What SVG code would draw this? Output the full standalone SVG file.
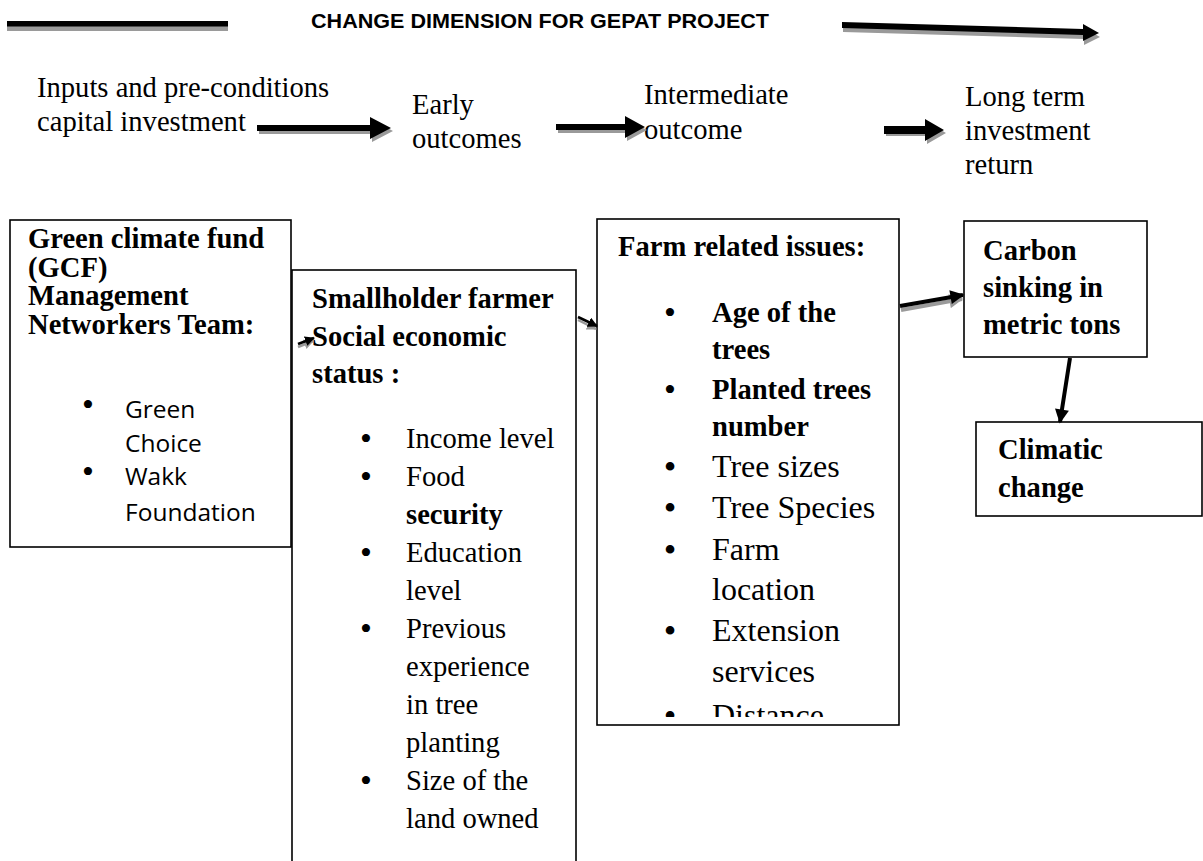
<svg xmlns="http://www.w3.org/2000/svg" width="1203" height="861" viewBox="0 0 1203 861">
<defs>
<style>
.t{font-family:"Liberation Serif","Times New Roman",serif;font-size:28.6px;fill:#000}
.b{font-weight:bold}
.big{font-size:32px}
.bu{font-family:"Liberation Serif","Times New Roman",serif;font-size:34px;fill:#000}
.bu2{font-family:"Liberation Serif","Times New Roman",serif;font-size:36px;fill:#000}
.sans{font-family:"Open Sans","Liberation Sans",sans-serif;font-size:24.5px;fill:#000}
.box{fill:#fff;stroke:#000;stroke-width:1.6}
.sh{fill:#9a9a9a}
.blk{fill:#000}
.ln{stroke:#000;stroke-width:4;fill:none}
.lnsh{stroke:#9a9a9a;stroke-width:4;fill:none}
.lns{stroke:#000;stroke-width:2.5;fill:none}
.lnssh{stroke:#9a9a9a;stroke-width:2.5;fill:none}
</style>
<marker id="ah" viewBox="0 0 10 10" refX="9" refY="5" markerWidth="15" markerHeight="14" markerUnits="userSpaceOnUse" orient="auto"><path d="M0,0 L10,5 L0,10 z" fill="#000"/></marker>
<marker id="ahs" viewBox="0 0 10 10" refX="9" refY="5" markerWidth="15" markerHeight="14" markerUnits="userSpaceOnUse" orient="auto"><path d="M0,0 L10,5 L0,10 z" fill="#9a9a9a"/></marker>
<marker id="ah2" viewBox="0 0 10 10" refX="9" refY="5" markerWidth="10" markerHeight="10" markerUnits="userSpaceOnUse" orient="auto"><path d="M0,0 L10,5 L0,10 z" fill="#000"/></marker>
<marker id="ah2s" viewBox="0 0 10 10" refX="9" refY="5" markerWidth="10" markerHeight="10" markerUnits="userSpaceOnUse" orient="auto"><path d="M0,0 L10,5 L0,10 z" fill="#9a9a9a"/></marker>
<clipPath id="clip3"><rect x="597" y="219" width="303" height="498"/></clipPath>
</defs>
<rect width="1203" height="861" fill="#fff"/>

<g id="title">
<rect x="7" y="26" width="221" height="5" class="sh"/>
<rect x="7" y="21" width="221" height="5.5" class="blk"/>
<text x="311" y="28" font-family="Liberation Sans, Arial, sans-serif" font-weight="bold" font-size="20" textLength="458" lengthAdjust="spacingAndGlyphs">CHANGE DIMENSION FOR GEPAT PROJECT</text>
</g>

<g id="stage-labels">
<text class="t" x="37" y="97">Inputs and pre-conditions</text>
<text class="t" x="37" y="131">capital investment</text>
<text class="t" x="412" y="114">Early</text>
<text class="t" x="412" y="148">outcomes</text>
<text class="t" x="644" y="104">Intermediate</text>
<text class="t" x="644" y="139">outcome</text>
<text class="t" x="965" y="106">Long term</text>
<text class="t" x="965" y="140">investment</text>
<text class="t" x="965" y="174">return</text>
</g>

<g id="node-gcf">
<rect class="box" x="10" y="220" width="281" height="327"/>
<text class="t b" x="28" y="248">Green climate fund</text>
<text class="t b" x="28" y="277">(GCF)</text>
<text class="t b" x="28" y="305">Management</text>
<text class="t b" x="28" y="334">Networkers Team:</text>
<text class="bu" x="88" y="416" text-anchor="middle">•</text>
<text class="sans" x="125" y="418">Green</text>
<text class="sans" x="125" y="452">Choice</text>
<text class="bu" x="88" y="483" text-anchor="middle">•</text>
<text class="sans" x="125" y="485">Wakk</text>
<text class="sans" x="125" y="521">Foundation</text>
</g>

<g id="node-smallholder">
<rect class="box" x="292" y="270" width="284" height="610"/>
<text class="t b" x="312" y="308">Smallholder farmer</text>
<text class="t b" x="312" y="346">Social economic</text>
<text class="t b" x="312" y="383">status :</text>
<g class="t">
<text class="bu" x="366" y="450" text-anchor="middle">•</text><text x="406" y="448">Income level</text>
<text class="bu" x="366" y="488" text-anchor="middle">•</text><text x="406" y="486">Food</text>
<text x="406" y="524" font-weight="bold">security</text>
<text class="bu" x="366" y="564" text-anchor="middle">•</text><text x="406" y="562">Education</text>
<text x="406" y="600">level</text>
<text class="bu" x="366" y="640" text-anchor="middle">•</text><text x="406" y="638">Previous</text>
<text x="406" y="676">experience</text>
<text x="406" y="714">in tree</text>
<text x="406" y="752">planting</text>
<text class="bu" x="366" y="792" text-anchor="middle">•</text><text x="406" y="790">Size of the</text>
<text x="406" y="828">land owned</text>
</g>
</g>

<g id="node-farm">
<rect class="box" x="597" y="219" width="302" height="506"/>
<text class="t b" x="618" y="256">Farm related issues:</text>
<g clip-path="url(#clip3)">
<text class="bu" x="670" y="324" text-anchor="middle">•</text><text class="t b" x="712" y="322">Age of the</text>
<text class="t b" x="712" y="359">trees</text>
<text class="bu" x="670" y="401" text-anchor="middle">•</text><text class="t b" x="712" y="399">Planted trees</text>
<text class="t b" x="712" y="436">number</text>
<text class="bu2" x="670" y="479" text-anchor="middle">•</text><text class="t big" x="712" y="477">Tree sizes</text>
<text class="bu2" x="670" y="520" text-anchor="middle">•</text><text class="t big" x="712" y="518">Tree Species</text>
<text class="bu2" x="670" y="562" text-anchor="middle">•</text><text class="t big" x="712" y="560">Farm</text>
<text class="t big" x="712" y="600">location</text>
<text class="bu2" x="670" y="643" text-anchor="middle">•</text><text class="t big" x="712" y="641">Extension</text>
<text class="t big" x="712" y="682">services</text>
<text class="bu2" x="670" y="728" text-anchor="middle">•</text><text class="t big" x="712" y="726">Distance</text>
</g>
</g>

<g id="node-carbon">
<rect class="box" x="964" y="221" width="183" height="136"/>
<text class="t b" x="983" y="260">Carbon</text>
<text class="t b" x="983" y="297">sinking in</text>
<text class="t b" x="983" y="334">metric tons</text>
</g>

<g id="node-climatic">
<rect class="box" x="976" y="422" width="226" height="94"/>
<text class="t b" x="998" y="459">Climatic</text>
<text class="t b" x="998" y="497">change</text>
</g>

<g id="connectors">
<polygon class="sh" points="843,26 1084,33 1084,28 1100,37 1084,45 1084,39 843,32"/>
<polygon class="blk" points="842,22 1083,29 1083,24 1099,33 1083,41 1083,35 842,28"/>
<polygon class="sh" points="259,128 372,128 372,120 393,131 372,142 372,134 259,134"/>
<polygon class="blk" points="257,125 370,125 370,117 391,128 370,139 370,131 257,131"/>
<polygon class="sh" points="558,127 627,127 627,119 647,130 627,141 627,133 558,133"/>
<polygon class="blk" points="556,124 625,124 625,116 645,127 625,138 625,130 556,130"/>
<polygon class="sh" points="886,130 927,130 927,122 946,133 927,144 927,136 886,136"/>
<polygon class="blk" points="884,126 925,126 925,119 944,130 925,141 925,134 884,134"/>
<line class="lnsh" x1="901" y1="310" x2="962" y2="299" marker-end="url(#ahs)"/>
<line class="ln" x1="900" y1="306" x2="963" y2="295" marker-end="url(#ah)"/>
<line class="ln" x1="1070" y1="358" x2="1060" y2="422" marker-end="url(#ah)"/>
<line class="lnssh" x1="298" y1="347" x2="313" y2="341" marker-end="url(#ah2s)"/>
<line class="lns" x1="298" y1="344" x2="314" y2="338" marker-end="url(#ah2)"/>
<line class="lnssh" x1="578" y1="320" x2="596" y2="329" marker-end="url(#ah2s)"/>
<line class="lns" x1="578" y1="317" x2="597" y2="326" marker-end="url(#ah2)"/>
</g>
</svg>
